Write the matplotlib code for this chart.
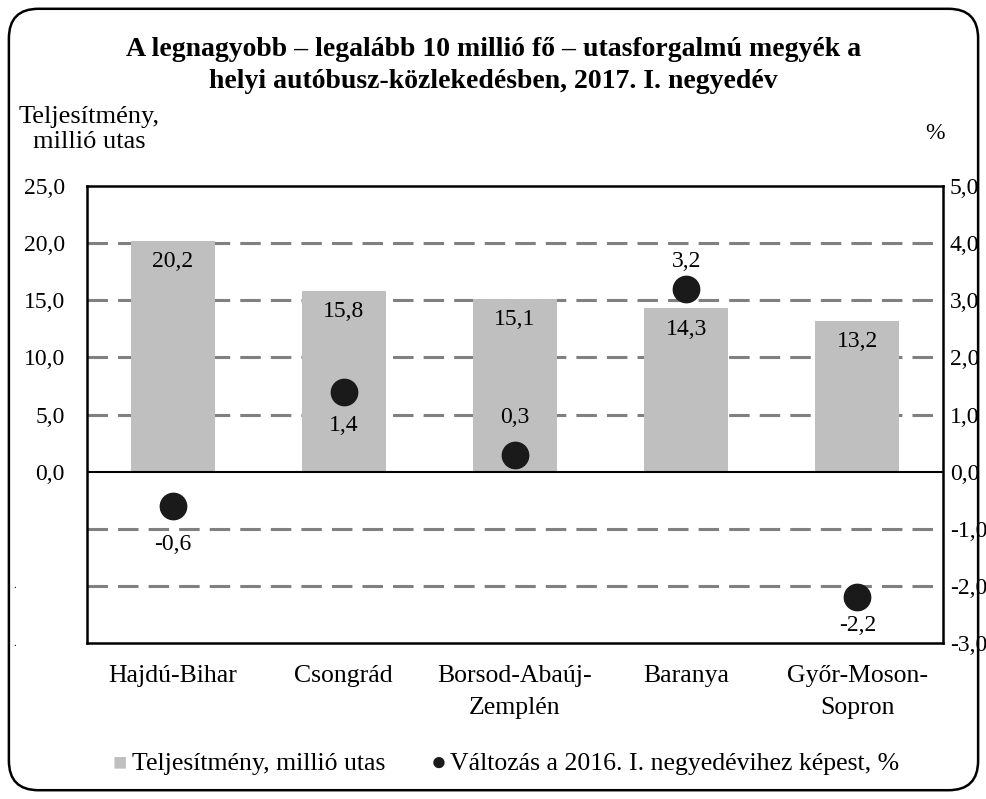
import matplotlib.pyplot as plt
from matplotlib.patches import FancyBboxPatch

plt.rcParams['font.family'] = ['Liberation Serif', 'DejaVu Serif']

megyek = ['Hajdú-Bihar', 'Csongrád', 'Borsod-Abaúj-\nZemplén', 'Baranya', 'Győr-Moson-\nSopron']
teljesitmeny = [20.2, 15.8, 15.1, 14.3, 13.2]
valtozas = [-0.6, 1.4, 0.3, 3.2, -2.2]
# cimke eltolas (pont) a pontokhoz
cimke_dy = [-28, -24, 27, 20, -20]

bal_tick = [0, 5, 10, 15, 20, 25]
jobb_tick = [-3, -2, -1, 0, 1, 2, 3, 4, 5]

def vesszo(v):
    return ('%.1f' % v).replace('.', ',')

fs = 17
fs_nagy = 18.5

fig = plt.figure(figsize=(9.87, 7.99), dpi=100)

# keret
keret = FancyBboxPatch((0.009, 0.011), 0.982, 0.978, boxstyle='round,pad=0,rounding_size=0.03',
                       transform=fig.transFigure, fill=False, lw=1.8, ec='black',
                       mutation_aspect=987/799)
fig.patches.append(keret)

ax = fig.add_axes([0.0881, 0.1952, 0.8673, 0.572])
x = list(range(len(megyek)))
ax.set_xlim(-0.5, 4.5)
ax.set_ylim(-15, 25)
for g in [-10, -5, 5, 10, 15, 20]:
    ax.axhline(g, color='#808080', lw=2.2, ls=(0, (6.7, 3.3)), zorder=0)
ax.axhline(0, color='black', lw=1.5, zorder=3)
ax.bar(x, teljesitmeny, width=0.49, color='#bfbfbf', zorder=1)
for i, v in enumerate(teljesitmeny):
    ax.annotate(vesszo(v), (i, v), xytext=(0, -15), textcoords='offset points',
                ha='center', va='center', fontsize=fs)

ax.set_yticks(bal_tick)
ax.set_yticklabels([vesszo(t) for t in bal_tick], fontsize=fs)
ax.tick_params(axis='y', length=0, pad=16)
ax.set_xticks(x)
ax.set_xticklabels(megyek, fontsize=fs_nagy)
for t in ax.get_xticklabels():
    t.set_linespacing(1.55)
ax.tick_params(axis='x', length=0, pad=16)
for s in ax.spines.values():
    s.set_linewidth(1.8)

# bal oldali apro pontok
ax.text(-0.085, -10, '.', transform=ax.get_yaxis_transform(), fontsize=8, ha='center', va='center')
ax.text(-0.085, -15, '.', transform=ax.get_yaxis_transform(), fontsize=8, ha='center', va='center')

ax2 = ax.twinx()
ax2.set_ylim(-3, 5)
ax2.scatter(x, valtozas, s=360, color='#1a1a1a', zorder=5)
for i, v in enumerate(valtozas):
    ax2.annotate(vesszo(v), (i, v), xytext=(0, cimke_dy[i]), textcoords='offset points',
                 ha='center', va='center', fontsize=fs)
ax2.set_yticks(jobb_tick)
ax2.set_yticklabels([vesszo(t) for t in jobb_tick], fontsize=fs)
ax2.tick_params(axis='y', length=0, pad=5)
for s in ax2.spines.values():
    s.set_visible(False)

fig.text(0.5, 0.918, 'A legnagyobb – legalább 10 millió fő – utasforgalmú megyék a\nhelyi autóbusz-közlekedésben, 2017. I. negyedév',
         ha='center', va='center', fontsize=20, fontweight='bold', linespacing=1.35)
fig.text(0.09, 0.838, 'Teljesítmény,\nmillió utas', ha='center', va='center', fontsize=19,
         linespacing=1.15)
fig.text(0.947, 0.833, '%', ha='center', va='center', fontsize=fs)

# legenda
fig.text(0.121, 0.044, '■', ha='center', va='center', fontsize=17, color='#bfbfbf')
fig.text(0.134, 0.044, 'Teljesítmény, millió utas', ha='left', va='center', fontsize=fs_nagy)
fig.text(0.444, 0.044, '●', ha='center', va='center', fontsize=19, color='#1a1a1a')
fig.text(0.456, 0.044, 'Változás a 2016. I. negyedévihez képest, %', ha='left', va='center', fontsize=fs_nagy)

fig.savefig('out.png', dpi=100)
